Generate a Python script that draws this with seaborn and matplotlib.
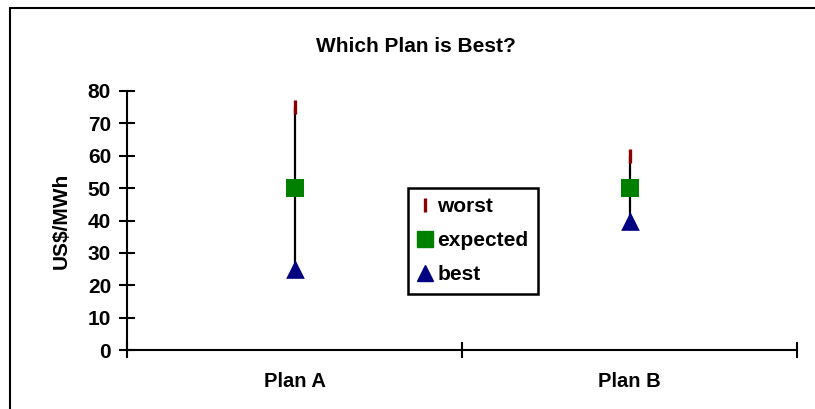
import pandas as pd
import seaborn as sns
import matplotlib.pyplot as plt
from matplotlib.lines import Line2D

plans = ['Plan A', 'Plan B']
worst = [75, 60]
expected = [50, 50]
best = [25, 40]
yticks = [0, 10, 20, 30, 40, 50, 60, 70, 80]

sns.set_style('ticks')
plt.rcParams['font.family'] = ['Liberation Sans', 'DejaVu Sans']
plt.rcParams['font.weight'] = 'bold'
plt.rcParams['text.color'] = 'black'
plt.rcParams['xtick.color'] = 'black'
plt.rcParams['ytick.color'] = 'black'
plt.rcParams['axes.labelcolor'] = 'black'

df = pd.DataFrame({'plan': plans, 'worst': worst, 'expected': expected, 'best': best})

fig = plt.figure(figsize=(8.15, 4.09), dpi=100)
ax = fig.add_axes([127 / 815, 1 - 350 / 409, 670 / 815, 259 / 409])

# high-low line
ax.vlines(df['plan'], df['best'], df['worst'], color='black', lw=1.6, zorder=1)

sns.scatterplot(data=df, x='plan', y='worst', marker='|', s=110, color='#8B0000',
                linewidth=2.4, ax=ax, zorder=3, label='worst')
sns.scatterplot(data=df, x='plan', y='expected', marker='s', s=150, color='#008000',
                edgecolor='#008000', linewidth=0, ax=ax, zorder=3, label='expected')
sns.scatterplot(data=df, x='plan', y='best', marker='^', s=180, color='#000080',
                edgecolor='#000080', linewidth=0, ax=ax, zorder=3, label='best')

ax.set_xlim(-0.5, 1.5)
ax.set_ylim(0, 80)
ax.set_yticks(yticks)
ax.set_yticklabels([str(v) for v in yticks], fontsize=15, fontweight='bold')

# category boundaries as major ticks, labels on minor ticks
ax.set_xticks([-0.5, 0.5, 1.5])
ax.set_xticklabels(['', '', ''])
ax.set_xticks([0, 1], minor=True)
ax.set_xticklabels(plans, minor=True, fontsize=14.5, fontweight='bold')
ax.tick_params(axis='x', which='minor', length=0, pad=16)
ax.tick_params(axis='both', which='major', direction='inout', length=11, width=1.5,
               color='black', bottom=True, left=True)
ax.tick_params(axis='y', pad=6)

ax.set_xlabel('')
ax.set_ylabel('US$/MWh', fontsize=15, fontweight='bold', labelpad=12)

sns.despine(ax=ax)
for sp in ['left', 'bottom']:
    ax.spines[sp].set_linewidth(1.5)
    ax.spines[sp].set_color('black')

fig.text(416 / 815, 1 - 47 / 409, 'Which Plan is Best?', ha='center', va='center',
         fontsize=15, fontweight='bold')

handles = [
    Line2D([], [], marker='|', color='#8B0000', ls='none', markersize=10, markeredgewidth=2.4),
    Line2D([], [], marker='s', color='#008000', ls='none', markersize=11),
    Line2D([], [], marker='^', color='#000080', ls='none', markersize=12),
]
ax.legend(handles, ['worst', 'expected', 'best'], loc='upper left',
          bbox_to_anchor=(408 / 815, 1 - 188 / 409), bbox_transform=fig.transFigure,
          frameon=True, fancybox=False, edgecolor='black', framealpha=1,
          prop={'size': 15, 'weight': 'bold'}, handlelength=0.7, handletextpad=0.25,
          labelspacing=0.72, borderpad=0.45, borderaxespad=0)
ax.get_legend().get_frame().set_linewidth(1.8)

# chart area border (left and top visible)
fig.add_artist(Line2D([10 / 815, 10 / 815], [0, 1 - 8 / 409], transform=fig.transFigure,
                      color='black', lw=1.5))
fig.add_artist(Line2D([10 / 815, 1], [1 - 8 / 409, 1 - 8 / 409], transform=fig.transFigure,
                      color='black', lw=1.5))

fig.savefig('out.png', dpi=100)
